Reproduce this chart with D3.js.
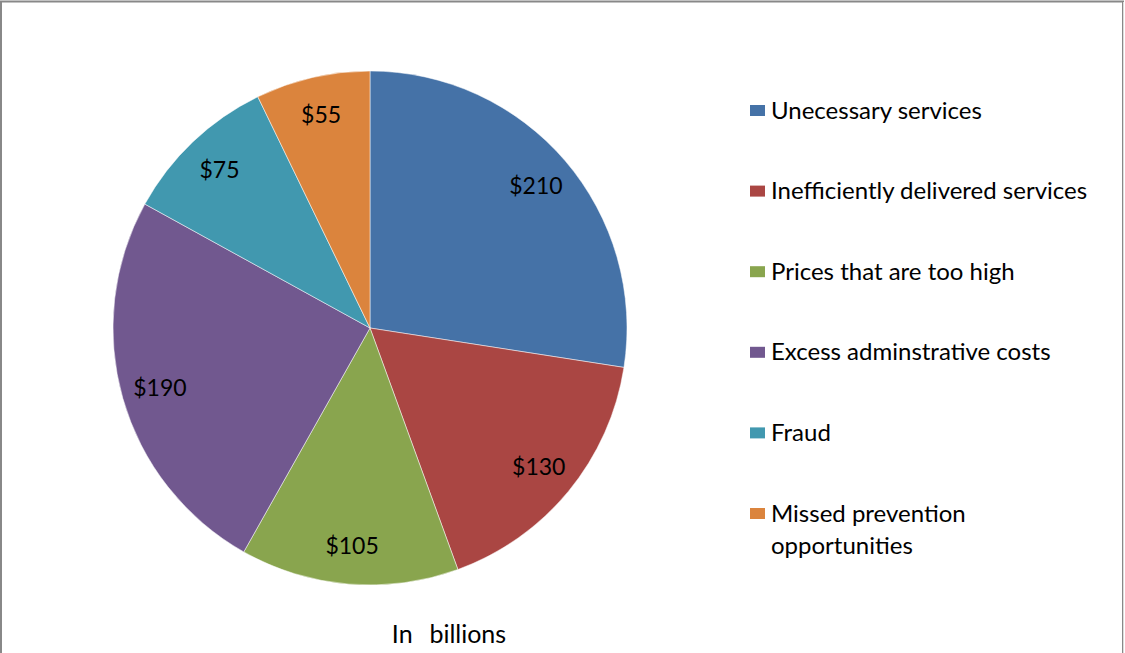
<!DOCTYPE html>
<html>
<head>
<meta charset="utf-8">
<script src="https://cdn.jsdelivr.net/npm/d3@7"></script>
<style>
  body { margin: 0; background: #fff; }
  svg { display: block; font-family: Lato, "Noto Sans", sans-serif; }
</style>
</head>
<body>
<script>
// data
var categories = ['Unecessary services', 'Inefficiently delivered services', 'Prices that are too high',
                  'Excess adminstrative costs', 'Fraud', 'Missed prevention opportunities']
var values = [210, 130, 105, 190, 75, 55]
var labels = ['$210', '$130', '$105', '$190', '$75', '$55']
var colors = ['#4572A7', '#AA4643', '#89A54E', '#71588F', '#4198AF', '#DB843D']
var title = 'In  billions'

var width = 1125
var height = 653
var cx = 370, cy = 328, radius = 257

var svg = d3.select('body').append('svg').attr('width', width).attr('height', height)

// border of the chart area
svg.append('rect').attr('x', 1).attr('y', 1.5).attr('width', 1122).attr('height', 700)
   .attr('fill', 'none').attr('stroke', '#888').attr('stroke-width', 2)
svg.append('line').attr('x1', 1123.5).attr('x2', 1123.5).attr('y1', 2).attr('y2', height)
   .attr('stroke', '#ddd').attr('stroke-width', 1)

var pie = d3.pie().sort(null).value(function(d){ return d })
var arcs = pie(values)
var arc = d3.arc().innerRadius(0).outerRadius(radius)
var labelArc = d3.arc().innerRadius(radius * 0.85).outerRadius(radius * 0.85)

var g = svg.append('g').attr('transform', 'translate(' + cx + ',' + cy + ')')

g.selectAll('path').data(arcs).enter()
  .append('path').attr('d', arc)
  .attr('fill', function(d, i){ return colors[i] })
  .attr('stroke', '#fff').attr('stroke-width', 0.5)

g.selectAll('text').data(arcs).enter()
  .append('text')
  .attr('transform', function(d){ return 'translate(' + labelArc.centroid(d) + ')' })
  .attr('text-anchor', 'middle').attr('dy', '0.36em')
  .attr('font-size', 23).attr('fill', '#000')
  .text(function(d, i){ return labels[i] })

// legend
var legendY = d3.scalePoint().domain(categories).range([110, 513])
var legend = svg.append('g')
var items = legend.selectAll('g').data(categories).enter().append('g')
  .attr('transform', function(d){ return 'translate(750,' + legendY(d) + ')' })

items.append('rect').attr('x', 0).attr('y', -5).attr('width', 15).attr('height', 11)
  .attr('fill', function(d, i){ return colors[i] })

items.append('text').attr('font-size', 24).attr('fill', '#000')
  .each(function(d){
    var t = d3.select(this)
    var lines = d === 'Missed prevention opportunities' ? ['Missed prevention', 'opportunities'] : [d]
    lines.forEach(function(l, j){
      t.append('tspan').attr('x', 21).attr('dy', j === 0 ? '0.36em' : '1.33em').text(l)
    })
  })

svg.append('text').attr('x', 449).attr('y', 643).attr('text-anchor', 'middle')
  .attr('font-size', 25).attr('word-spacing', 2).attr('fill', '#000')
  .style('white-space', 'pre').text(title)
</script>
</body>
</html>
